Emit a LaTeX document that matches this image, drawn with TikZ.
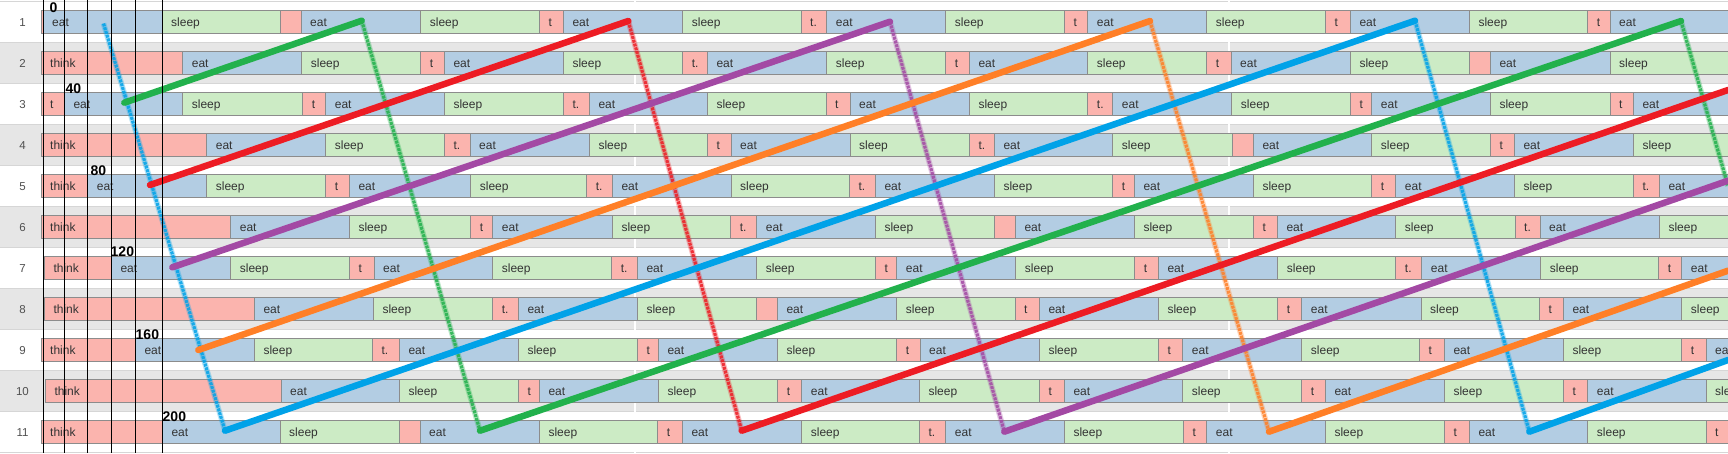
\documentclass[tikz,border=0pt]{standalone}
\usepackage{fontspec}
\setmainfont{Liberation Sans}
\usepackage{tikz}

\definecolor{eatcol}{HTML}{B3CDE3}
\definecolor{sleepcol}{HTML}{CCEBC5}
\definecolor{thinkcol}{HTML}{FBB4AE}
\definecolor{edgecol}{HTML}{8C8C8C}
\definecolor{bandcol}{HTML}{E6E6E6}
\definecolor{linecol}{HTML}{D6D6D6}
\definecolor{txtcol}{HTML}{333333}
\definecolor{numcol}{HTML}{505050}
\definecolor{cblue}{HTML}{00A2E8}
\definecolor{cgreen}{HTML}{22B14C}
\definecolor{cred}{HTML}{ED1C24}
\definecolor{cpurple}{HTML}{A349A4}
\definecolor{corange}{HTML}{FF7F27}

% one row of the timeline: #1 = row, #2 = start/end/kind/label
\newcommand{\barrow}[2]{%
  \foreach \xa/\xb/\kind/\txt [count=\k] in {#2}{%
    \draw[\kind] (\xa,{41*#1-31}) rectangle (\xb,{41*#1-8});
    \node[barlbl] (r#1s\k) at ({\xa+9},{41*#1-15}) {\txt};
  }}

\begin{document}
\begin{tikzpicture}[x=1pt,y=-1pt,
  eatbar/.style={fill=eatcol,draw=edgecol,line width=0.9pt},
  sleepbar/.style={fill=sleepcol,draw=edgecol,line width=0.9pt},
  thinkbar/.style={fill=thinkcol,draw=edgecol,line width=0.9pt},
  barlbl/.style={anchor=base west,inner sep=0pt,text=txtcol,font=\fontsize{12}{14}\selectfont},
  rownum/.style={anchor=base,inner sep=0pt,text=numcol,font=\fontsize{11.5}{14}\selectfont},
  ticklbl/.style={anchor=base west,inner sep=0pt,font=\fontsize{14}{16}\selectfont\bfseries},
  cycleline/.style={draw=#1,line width=6.5pt,line cap=round},
  fuzzline/.style={draw=#1,line width=3.2pt,opacity=.85,dash pattern=on 3pt off 0.9pt,
    preaction={draw=#1,line width=5.5pt,opacity=.3,solid}}]
\useasboundingbox (0,0) rectangle (1728,453);
\clip (0,0) rectangle (1728,453);

% rows in the background
\fill[white] (0,0) rectangle (1728,453);
\foreach \r in {2,4,...,10} \fill[bandcol] (0,{41*\r-40}) rectangle (1728,{41*\r+1});
\foreach \r in {0,...,11} \draw[linecol,line width=1pt] (0,{41*\r+1}) -- (1728,{41*\r+1});
\draw[white,line width=1.2pt] (635,0) -- (635,453);
\draw[white,line width=1.2pt] (1229,0) -- (1229,453);
\foreach \r in {1,...,11} \node[rownum] (num\r) at (22.5,{41*\r-15}) {\r};

\barrow{1}{41/43/thinkbar/{}, 43/162/eatbar/eat, 162/280/sleepbar/sleep, 280/301/thinkbar/{},
  301/420.7/eatbar/eat, 420.7/539.3/sleepbar/sleep, 539.3/563.3/thinkbar/t, 563.3/682.7/eatbar/eat,
  682.7/801/sleepbar/sleep, 801/826.7/thinkbar/t., 826.7/945.7/eatbar/eat, 945.7/1064.3/sleepbar/sleep,
  1064.3/1087.7/thinkbar/t, 1087.7/1206.7/eatbar/eat, 1206.7/1325.3/sleepbar/sleep, 1325.3/1350.3/thinkbar/t,
  1350.3/1469.3/eatbar/eat, 1469.3/1587.7/sleepbar/sleep, 1587.7/1610/thinkbar/t, 1610/1735/eatbar/eat}
\barrow{2}{41/182.7/thinkbar/think, 182.7/301.7/eatbar/eat, 301.7/420.7/sleepbar/sleep, 420.7/444.3/thinkbar/t,
  444.3/563.3/eatbar/eat, 563.3/682.7/sleepbar/sleep, 682.7/707.3/thinkbar/t., 707.3/826.7/eatbar/eat,
  826.7/945.7/sleepbar/sleep, 945.7/969.3/thinkbar/t, 969.3/1087.7/eatbar/eat, 1087.7/1206.7/sleepbar/sleep,
  1206.7/1231/thinkbar/t, 1231/1350.3/eatbar/eat, 1350.3/1469.3/sleepbar/sleep, 1469.3/1490.3/thinkbar/{},
  1490.3/1610/eatbar/eat, 1610/1735/sleepbar/sleep}
\barrow{3}{41/64.3/thinkbar/t, 64.3/182.7/eatbar/eat, 182.7/302.7/sleepbar/sleep, 302.7/325.7/thinkbar/t,
  325.7/444.3/eatbar/eat, 444.3/563.3/sleepbar/sleep, 563.3/589.3/thinkbar/t., 589.3/707.3/eatbar/eat,
  707.3/826/sleepbar/sleep, 826/850/thinkbar/t, 850/969.3/eatbar/eat, 969.3/1087.7/sleepbar/sleep,
  1087.7/1112.7/thinkbar/t., 1112.7/1231.7/eatbar/eat, 1231.7/1350.3/sleepbar/sleep, 1350.3/1371.7/thinkbar/t,
  1371.7/1490.3/eatbar/eat, 1490.3/1610/sleepbar/sleep, 1610/1633.3/thinkbar/t, 1633.3/1735/eatbar/eat}
\barrow{4}{41/206.7/thinkbar/think, 206.7/325.7/eatbar/eat, 325.7/444.3/sleepbar/sleep, 444.3/470/thinkbar/t.,
  470/589.3/eatbar/eat, 589.3/707.3/sleepbar/sleep, 707.3/731/thinkbar/t, 731/850/eatbar/eat,
  850/969.3/sleepbar/sleep, 969.3/994.3/thinkbar/t., 994.3/1112.7/eatbar/eat, 1112.7/1232.3/sleepbar/sleep,
  1232.3/1253.3/thinkbar/{}, 1253.3/1371.7/eatbar/eat, 1371.7/1490.3/sleepbar/sleep, 1490.3/1514.3/thinkbar/t,
  1514.3/1633.3/eatbar/eat, 1633.3/1735/sleepbar/sleep}
\barrow{5}{41/87.7/thinkbar/think, 87.7/206.7/eatbar/eat, 206.7/325.7/sleepbar/sleep, 325.7/349.3/thinkbar/t,
  349.3/470.7/eatbar/eat, 470.7/586.7/sleepbar/sleep, 586.7/612.3/thinkbar/t., 612.3/731/eatbar/eat,
  731/849.3/sleepbar/sleep, 849.3/875.3/thinkbar/t., 875.3/994.3/eatbar/eat, 994.3/1112.7/sleepbar/sleep,
  1112.7/1134.3/thinkbar/t, 1134.3/1253.3/eatbar/eat, 1253.3/1371.7/sleepbar/sleep, 1371.7/1395.7/thinkbar/t,
  1395.7/1514.3/eatbar/eat, 1514.3/1633.3/sleepbar/sleep, 1633.3/1659.3/thinkbar/t., 1659.3/1735/eatbar/eat}
\barrow{6}{41/230.7/thinkbar/think, 230.7/349.3/eatbar/eat, 349.3/470.7/sleepbar/sleep, 470.7/492.7/thinkbar/t,
  492.7/612.3/eatbar/eat, 612.3/730.7/sleepbar/sleep, 730.7/756.7/thinkbar/t., 756.7/875.3/eatbar/eat,
  875.3/994.3/sleepbar/sleep, 994.3/1015.3/thinkbar/{}, 1015.3/1134.3/eatbar/eat, 1134.3/1253.3/sleepbar/sleep,
  1253.3/1277.3/thinkbar/t, 1277.3/1395.7/eatbar/eat, 1395.7/1515/sleepbar/sleep, 1515/1540/thinkbar/t.,
  1540/1659.3/eatbar/eat, 1659.3/1735/sleepbar/sleep}
\barrow{7}{44.3/111.3/thinkbar/think, 111.3/230.7/eatbar/eat, 230.7/349.3/sleepbar/sleep, 349.3/374/thinkbar/t,
  374/492.7/eatbar/eat, 492.7/611.7/sleepbar/sleep, 611.7/637.3/thinkbar/t., 637.3/756.7/eatbar/eat,
  756.7/875.3/sleepbar/sleep, 875.3/896.7/thinkbar/t, 896.7/1015.7/eatbar/eat, 1015.7/1134.7/sleepbar/sleep,
  1134.7/1158.3/thinkbar/t, 1158.3/1277.7/eatbar/eat, 1277.7/1395.7/sleepbar/sleep, 1395.7/1421.7/thinkbar/t.,
  1421.7/1540.7/eatbar/eat, 1540.7/1658.7/sleepbar/sleep, 1658.7/1681.7/thinkbar/t, 1681.7/1735/eatbar/eat}
\barrow{8}{44.3/254.3/thinkbar/think, 254.3/373.3/eatbar/eat, 373.3/492.7/sleepbar/sleep, 492.7/518.3/thinkbar/t.,
  518.3/637.3/eatbar/eat, 637.3/756.7/sleepbar/sleep, 756.7/777.3/thinkbar/{}, 777.3/896.7/eatbar/eat,
  896.7/1015/sleepbar/sleep, 1015/1039.3/thinkbar/t, 1039.3/1158.3/eatbar/eat, 1158.3/1277.7/sleepbar/sleep,
  1277.7/1301.7/thinkbar/t, 1301.7/1421/eatbar/eat, 1421/1539.3/sleepbar/sleep, 1539.3/1563.3/thinkbar/t,
  1563.3/1681.7/eatbar/eat, 1681.7/1735/sleepbar/sleep}
\barrow{9}{41/135.3/thinkbar/think, 135.3/254.3/eatbar/eat, 254.3/372.3/sleepbar/sleep, 372.3/399.3/thinkbar/t.,
  399.3/518.3/eatbar/eat, 518.3/637.3/sleepbar/sleep, 637.3/658.3/thinkbar/t, 658.3/777.3/eatbar/eat,
  777.3/896.7/sleepbar/sleep, 896.7/920/thinkbar/t, 920/1039.3/eatbar/eat, 1039.3/1158.3/sleepbar/sleep,
  1158.3/1182.7/thinkbar/t, 1182.7/1301.7/eatbar/eat, 1301.7/1419.3/sleepbar/sleep, 1419.3/1444.3/thinkbar/t,
  1444.3/1563.3/eatbar/eat, 1563.3/1681.7/sleepbar/sleep, 1681.7/1706/thinkbar/t, 1706/1735/eatbar/eat}
\barrow{10}{45.3/281/thinkbar/think, 281/399.3/eatbar/eat, 399.3/518.3/sleepbar/sleep, 518.3/539.3/thinkbar/t,
  539.3/658.3/eatbar/eat, 658.3/777.7/sleepbar/sleep, 777.7/801.7/thinkbar/t, 801.7/919.3/eatbar/eat,
  919.3/1039.3/sleepbar/sleep, 1039.3/1064.3/thinkbar/t, 1064.3/1182.7/eatbar/eat, 1182.7/1301.7/sleepbar/sleep,
  1301.7/1325.3/thinkbar/t, 1325.3/1444.3/eatbar/eat, 1444.3/1563.3/sleepbar/sleep, 1563.3/1587.7/thinkbar/t,
  1587.7/1706/eatbar/eat, 1706/1735/sleepbar/sleep}
\barrow{11}{41/162.3/thinkbar/think, 162.3/280/eatbar/eat, 280/399.3/sleepbar/sleep, 399.3/420/thinkbar/{},
  420/539.3/eatbar/eat, 539.3/657.7/sleepbar/sleep, 657.7/682.3/thinkbar/t, 682.3/801.7/eatbar/eat,
  801.7/919.3/sleepbar/sleep, 919.3/945.7/thinkbar/t., 945.7/1064.3/eatbar/eat, 1064.3/1183.3/sleepbar/sleep,
  1183.3/1206.7/thinkbar/t, 1206.7/1325.3/eatbar/eat, 1325.3/1444.3/sleepbar/sleep, 1444.3/1469.3/thinkbar/t,
  1469.3/1587.7/eatbar/eat, 1587.7/1706/sleepbar/sleep, 1706/1735/thinkbar/t}

% start times
\node[ticklbl] (t0) at (49.5,12.7) {0};
\node[ticklbl] (t40) at (65.5,93) {40};
\node[ticklbl] (t80) at (90.5,175) {80};
\node[ticklbl] (t120) at (110.5,256.7) {120};
\node[ticklbl] (t160) at (135.5,339.3) {160};
\node[ticklbl] (t200) at (162.5,421) {200};

% corners of the cycles
\coordinate (b0) at (103.5,23.5);
\coordinate (b1) at (225,430.7);
\coordinate (b2) at (1415,20.7);
\coordinate (b3) at (1529.3,431.7);
\coordinate (b4) at (1728,360);
\coordinate (g0) at (124.3,102.7);
\coordinate (g1) at (361.7,20.7);
\coordinate (g2) at (480,430.7);
\coordinate (g3) at (1681,21);
\coordinate (g4) at (1728,186);
\coordinate (r0) at (150,185);
\coordinate (r1) at (628.3,21);
\coordinate (r2) at (741.7,430.7);
\coordinate (r3) at (1728,90);
\coordinate (p0) at (172.3,267.3);
\coordinate (p1) at (890,21.7);
\coordinate (p2) at (1004.3,431.7);
\coordinate (p3) at (1728,180.7);
\coordinate (o0) at (198.3,350);
\coordinate (o1) at (1150,21);
\coordinate (o2) at (1269,431.7);
\coordinate (o3) at (1728,270.7);

\draw[fuzzline=cblue] (b0) -- (b1);
\draw[fuzzline=cblue] (b2) -- (b3);
\draw[fuzzline=cgreen] (g1) -- (g2);
\draw[fuzzline=cgreen] (g3) -- (g4);
\draw[fuzzline=cred] (r1) -- (r2);
\draw[fuzzline=cpurple] (p1) -- (p2);
\draw[fuzzline=corange] (o1) -- (o2);

\draw[cycleline=cgreen] (g0) -- (g1);
\draw[cycleline=cgreen] (g2) -- (g3);
\draw[cycleline=cred] (r0) -- (r1);
\draw[cycleline=cred] (r2) -- (r3);
\draw[cycleline=cpurple] (p0) -- (p1);
\draw[cycleline=cpurple] (p2) -- (p3);
\draw[cycleline=corange] (o0) -- (o1);
\draw[cycleline=corange] (o2) -- (o3);
\draw[cycleline=cblue] (b1) -- (b2);
\draw[cycleline=cblue] (b3) -- (b4);

% marks at the start times
\foreach \x in {43.3,64.3,87.3,111.3,135.3,162.3} \draw[black,line width=1pt] (\x,0) -- (\x,453);
\end{tikzpicture}
\end{document}
